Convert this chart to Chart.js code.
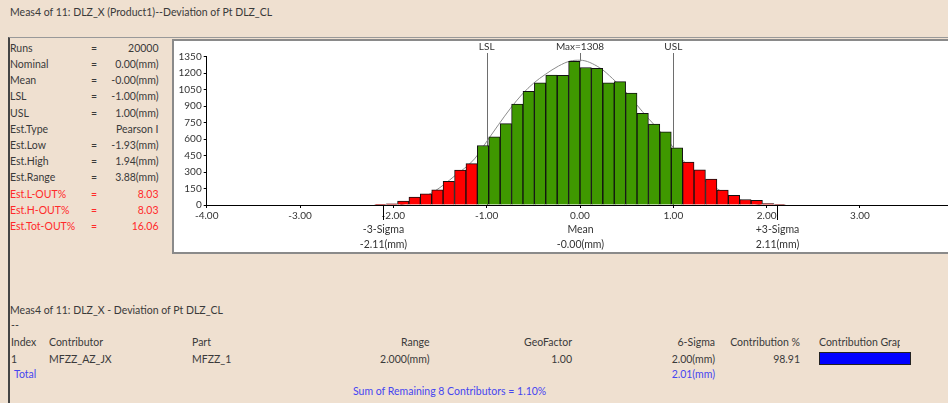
<!DOCTYPE html>
<html>
<head>
<meta charset="utf-8">
<script src="https://cdn.jsdelivr.net/npm/chart.js@4.4.0/dist/chart.umd.min.js"></script>
<style>
  html, body { margin: 0; padding: 0; }
  body {
    width: 948px; height: 403px; overflow: hidden; position: relative;
    background: #efe0d0; font-family: Lato, "Open Sans", sans-serif;
    font-size: 10.5px; color: #3a3a3a;
  }
  .t { position: absolute; white-space: nowrap; line-height: 13px; }
  .r { text-align: right; }
  .red { color: #ff2a2a; }
  .blue { color: #4646f0; }
  #frame { position: absolute; left: 8px; top: 37px; width: 960px; height: 400px;
    border-left: 2px solid #444; border-top: 1px solid #999; }
  #box { position: absolute; left: 172px; top: 39px; width: 800px; height: 215px;
    background: #fff; border: 2px solid #8a8a8a; box-sizing: border-box; }
  #chart { position: absolute; left: 172px; top: 40px; }
  #bluebar { position: absolute; left: 819px; top: 352px; width: 92px; height: 13px;
    background: #0000ff; border: 1px solid #222; box-sizing: border-box; }
</style>
</head>
<body>
<div id="frame"></div>
<div class="t" style="left:10px;top:6px;">Meas4 of 11: DLZ_X (Product1)--Deviation of Pt DLZ_CL</div>
<div id="stats"></div>
<div id="box"></div>
<canvas id="chart" width="800" height="213"></canvas>
<div id="table"></div>
<div id="bluebar"></div>

<script>
// histogram bins (mm) and counts
const binCenters = [-2.139, -2.017, -1.894, -1.772, -1.650, -1.528, -1.406, -1.283, -1.161,
  -1.039, -0.917, -0.794, -0.672, -0.550, -0.428, -0.306, -0.183, -0.061,
  0.061, 0.183, 0.306, 0.428, 0.550, 0.672, 0.794, 0.917, 1.039,
  1.161, 1.283, 1.406, 1.528, 1.650, 1.772, 1.894, 2.017, 2.139];
const binWidth = 0.1222;
const counts = [3, 10, 35, 72, 102, 138, 215, 318, 377,
  542, 621, 741, 918, 1035, 1111, 1183, 1180, 1308,
  1252, 1243, 1112, 1123, 1018, 835, 736, 667, 521,
  391, 321, 236, 136, 87, 50, 42, 13, 4];

// fitted curve (gray line)
const curveX = [-1.93, -1.75, -1.55, -1.35, -1.13, -0.99, -0.87, -0.745, -0.618, -0.496, -0.37, -0.23, -0.107, 0,
  0.21, 0.35, 0.48, 0.61, 0.73, 0.86, 0.98, 1.09, 1.25, 1.465, 1.65, 1.94];
const curveY = [0, 45, 130, 260, 420, 590, 735, 880, 1010, 1110, 1190, 1265, 1310, 1318,
  1250, 1150, 1040, 910, 790, 670, 545, 420, 280, 150, 65, 0];

const xTicks = [-4, -3, -2, -1, 0, 1, 2, 3];
const yTicks = [0, 150, 300, 450, 600, 750, 900, 1050, 1200, 1350];

const LSL = -1.0, USL = 1.0, maxCount = 1308;
const sigmaMarks = [
  { x: -2.11, name: "-3-Sigma", val: "-2.11(mm)" },
  { x: 0, name: "Mean", val: "-0.00(mm)" },
  { x: 2.11, name: "+3-Sigma", val: "2.11(mm)" }
];

const statLabels = ["Runs", "Nominal", "Mean", "LSL", "USL", "Est.Type", "Est.Low", "Est.High", "Est.Range", "Est.L-OUT%", "Est.H-OUT%", "Est.Tot-OUT%"];
const statValues = ["20000", "0.00(mm)", "-0.00(mm)", "-1.00(mm)", "1.00(mm)", "Pearson I", "-1.93(mm)", "1.94(mm)", "3.88(mm)", "8.03", "8.03", "16.06"];

// left stats block
let html = "";
statLabels.forEach((lab, i) => {
  const y = 48.3 + 16.2 * i - 6.5;
  const cls = i >= 9 ? "t red" : "t";
  html += `<div class="${cls}" style="left:10px;top:${y}px">${lab}</div>`;
  if (lab !== "Est.Type") html += `<div class="${cls}" style="left:91px;top:${y}px">=</div>`;
  html += `<div class="${cls} r" style="right:${948 - 158.5}px;top:${y}px">${statValues[i]}</div>`;
});
document.getElementById("stats").innerHTML = html;

// contributor table
const cell = (txt, x, y, right, cls, extra) => {
  const pos = right ? `right:${948 - x}px` : `left:${x}px`;
  return `<div class="t ${cls || ""}" style="${pos};top:${y - 6.5}px;${extra || ""}">${txt}</div>`;
};
let tb = "";
tb += cell("Meas4 of 11: DLZ_X - Deviation of Pt DLZ_CL", 10, 310.7);
tb += cell("--", 11, 325.5);
tb += cell("Index", 11, 342.3) + cell("Contributor", 49, 342.3) + cell("Part", 192, 342.3);
tb += cell("Range", 429.5, 342.3, true) + cell("GeoFactor", 572, 342.3, true);
tb += cell("6-Sigma", 715, 342.3, true) + cell("Contribution %", 800, 342.3, true);
tb += cell("Contribution Graph", 819, 342.3, false, "", "width:81px;overflow:hidden");
tb += cell("1", 11, 359) + cell("MFZZ_AZ_JX", 49, 359) + cell("MFZZ_1", 192, 359);
tb += cell("2.000(mm)", 429.5, 359, true) + cell("1.00", 572, 359, true);
tb += cell("2.00(mm)", 715, 359, true) + cell("98.91", 800, 359, true);
tb += cell("Total", 14, 374.3, false, "blue") + cell("2.01(mm)", 715, 374.3, true, "blue");
tb += cell("Sum of Remaining 8 Contributors = 1.10%", 353, 391, false, "blue");
document.getElementById("table").innerHTML = tb;

const barColors = binCenters.map(c =>
  (c + binWidth / 2 > LSL && c - binWidth / 2 < USL) ? "#3f9800" : "#ff0000");

const font = { family: "Lato", size: 10 };

const markers = {
  id: "markers",
  beforeDatasetsDraw(chart) {
    const { ctx, chartArea, scales } = chart;
    const x = scales.x, y = scales.y;
    ctx.save();
    ctx.strokeStyle = "#6e6e6e";
    ctx.lineWidth = 1;
    [LSL, USL].forEach(v => {
      const px = Math.round(x.getPixelForValue(v)) + 0.5;
      ctx.beginPath();
      ctx.moveTo(px, 13);
      ctx.lineTo(px, chartArea.bottom);
      ctx.stroke();
    });
    const mx = Math.round(x.getPixelForValue(0)) + 0.5;
    ctx.beginPath();
    ctx.moveTo(mx, 13);
    ctx.lineTo(mx, y.getPixelForValue(maxCount));
    ctx.stroke();
    ctx.restore();
  },
  afterDraw(chart) {
    const { ctx, chartArea, scales } = chart;
    const x = scales.x;
    ctx.save();
    ctx.font = "10px Lato";
    ctx.fillStyle = "#333";
    ctx.textAlign = "center";
    ctx.textBaseline = "middle";
    ctx.fillText("LSL", x.getPixelForValue(LSL), 6.5);
    ctx.fillText("USL", x.getPixelForValue(USL), 6.5);
    ctx.fillText("Max=" + maxCount, x.getPixelForValue(0), 6.5);
    ctx.strokeStyle = "#000";
    ctx.lineWidth = 1;
    sigmaMarks.forEach(m => {
      const px = Math.round(x.getPixelForValue(m.x)) + 0.5;
      if (m.x !== 0) {
        ctx.beginPath();
        ctx.moveTo(px, chartArea.bottom);
        ctx.lineTo(px, chartArea.bottom + 15);
        ctx.stroke();
      }
      ctx.font = "10.5px Lato";
      ctx.fillText(m.name, px, 190);
      ctx.fillText(m.val, px, 204.5);
    });
    ctx.restore();
  }
};

new Chart(document.getElementById("chart"), {
  type: "bar",
  data: {
    datasets: [
      {
        type: "bar",
        data: binCenters.map((c, i) => ({ x: c, y: counts[i] })),
        backgroundColor: barColors,
        borderColor: "#111",
        borderWidth: 1,
        barPercentage: 1,
        categoryPercentage: 1,
        order: 1
      },
      {
        type: "line",
        data: curveX.map((c, i) => ({ x: c, y: curveY[i] })),
        borderColor: "#8c8c8c",
        borderWidth: 1,
        pointRadius: 0,
        fill: false,
        cubicInterpolationMode: "monotone",
        order: 2
      }
    ]
  },
  options: {
    responsive: false,
    animation: false,
    devicePixelRatio: 1,
    layout: { padding: { left: 0, right: 18.7, top: 16.7, bottom: 0 } },
    plugins: { legend: { display: false }, tooltip: { enabled: false } },
    scales: {
      x: {
        type: "linear",
        min: -4, max: 4,
        offset: false,
        afterBuildTicks: s => { s.ticks = xTicks.map(v => ({ value: v })); },
        afterFit: s => { s.height = 48; },
        ticks: { font, color: "#333", padding: 2, maxRotation: 0, autoSkip: false,
          callback: v => v.toFixed(2) },
        grid: { display: true, drawOnChartArea: false, tickLength: 3, color: "#000", offset: false },
        border: { color: "#000", width: 1 }
      },
      y: {
        min: 0, max: 1350,
        afterBuildTicks: s => { s.ticks = yTicks.map(v => ({ value: v })); },
        afterFit: s => { s.width = 34.7; },
        ticks: { font, color: "#333", padding: 2, callback: v => String(v) },
        grid: { display: true, drawOnChartArea: false, tickLength: 3, color: "#000" },
        border: { color: "#000", width: 1 }
      }
    }
  },
  plugins: [markers]
});
</script>
</body>
</html>
